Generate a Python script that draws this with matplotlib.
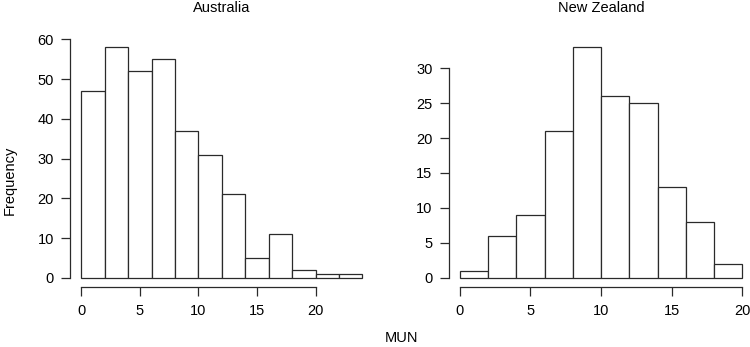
import numpy as np
import matplotlib
matplotlib.use("Agg")
import matplotlib.pyplot as plt

plt.rcParams['font.family'] = ['Liberation Sans', 'DejaVu Sans']
plt.rcParams['font.size'] = 10.5

# Bin edges and counts
aus_edges = np.arange(0, 26, 2)
aus_counts = [47, 58, 52, 55, 37, 31, 21, 5, 11, 2, 1, 1]
aus_xticks = [0, 5, 10, 15, 20]
aus_yticks = [0, 10, 20, 30, 40, 50, 60]

nz_edges = np.arange(0, 22, 2)
nz_counts = [1, 6, 9, 21, 33, 26, 25, 13, 8, 2]
nz_xticks = [0, 5, 10, 15, 20]
nz_yticks = [0, 5, 10, 15, 20, 25, 30]

fig = plt.figure(figsize=(7.5, 3.47), dpi=100)

def r_hist(ax, edges, counts, xticks, yticks, title):
    ax.bar(edges[:-1], counts, width=np.diff(edges), align='edge',
           color='white', edgecolor='#2a2a2a', linewidth=0.9)
    # R style 4% padding
    xr = edges[-1] - edges[0]
    yr = max(counts)
    ax.set_xlim(edges[0] - 0.04 * xr, edges[-1] + 0.04 * xr)
    ax.set_ylim(-0.04 * yr, yr * 1.04)
    ax.set_xticks(xticks)
    ax.set_yticks(yticks)
    for s in ['top', 'right']:
        ax.spines[s].set_visible(False)
    ax.spines['left'].set_bounds(yticks[0], yticks[-1])
    ax.spines['bottom'].set_bounds(xticks[0], xticks[-1])
    for s in ['left', 'bottom']:
        ax.spines[s].set_color('#2a2a2a')
        ax.spines[s].set_linewidth(0.9)
    ax.tick_params(axis='x', length=6.5, width=0.9, color='#2a2a2a', pad=6, labelsize=10.5)
    ax.tick_params(axis='y', length=6.5, width=0.9, color='#2a2a2a', pad=5, labelsize=10.5)
    ax.set_title(title, fontsize=10.5, pad=0, y=1.104)

ax1 = fig.add_axes([0.0933, 0.1729, 0.405, 0.7176])
r_hist(ax1, aus_edges, aus_counts, aus_xticks, aus_yticks, "Australia")

ax2 = fig.add_axes([0.598, 0.1729, 0.407, 0.7176])
r_hist(ax2, nz_edges, nz_counts, nz_xticks, nz_yticks, "New Zealand")

fig.text(0.013, 0.48, "Frequency", rotation=90, ha='center', va='center', fontsize=10.5)
fig.text(0.536, 0.006, "MUN", ha='center', va='bottom', fontsize=10.5)

fig.savefig("out.png", dpi=100)
